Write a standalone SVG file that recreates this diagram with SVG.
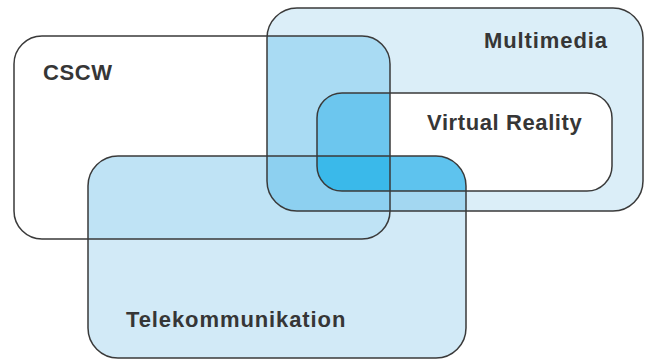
<svg xmlns="http://www.w3.org/2000/svg" width="647" height="360" viewBox="0 0 647 360">
<style>
.frame{fill:none;stroke:#3a3a3a;stroke-width:1.5}
.lbl{font-family:"Liberation Sans",Arial,sans-serif;font-weight:bold;font-size:22px;letter-spacing:0.6px;fill:#363636}
.wide{letter-spacing:0.9px}
</style>
<defs>
<rect id="rM" x="267" y="8" width="376" height="203" rx="30"/>
<rect id="rC" x="14" y="36" width="376" height="203" rx="28"/>
<rect id="rV" x="317" y="93" width="295" height="98" rx="25"/>
<rect id="rT" x="88" y="156" width="378" height="202" rx="30"/>
<clipPath id="cM"><use href="#rM"/></clipPath>
<clipPath id="cC"><use href="#rC"/></clipPath>
<clipPath id="cV"><use href="#rV"/></clipPath>
<clipPath id="cT"><use href="#rT"/></clipPath>
</defs>
<rect width="647" height="360" fill="#ffffff"/>
<g id="fills">
<use href="#rM" fill="#dbeef8"/>
<use href="#rT" fill="#d2eaf7"/>
<use href="#rV" fill="#ffffff"/>
<g clip-path="url(#cC)"><use href="#rT" fill="#bfe3f5"/></g>
<g clip-path="url(#cC)"><use href="#rM" fill="#a9dbf3"/></g>
<g clip-path="url(#cT)"><use href="#rM" fill="#a3d7f1"/></g>
<g clip-path="url(#cT)"><g clip-path="url(#cC)"><use href="#rM" fill="#8dd0f0"/></g></g>
<g clip-path="url(#cC)"><use href="#rV" fill="#6cc6ee"/></g>
<g clip-path="url(#cT)"><use href="#rV" fill="#5ec3ee"/></g>
<g clip-path="url(#cT)"><g clip-path="url(#cC)"><use href="#rV" fill="#3ab9ea"/></g></g>
</g>
<g id="multimedia">
<use href="#rM" class="frame"/>
<text class="lbl wide" x="484" y="48">Multimedia</text>
</g>
<g id="cscw">
<use href="#rC" class="frame"/>
<text class="lbl" x="43" y="80">CSCW</text>
</g>
<g id="virtual-reality">
<use href="#rV" class="frame"/>
<text class="lbl" x="427" y="130">Virtual Reality</text>
</g>
<g id="telekommunikation">
<use href="#rT" class="frame"/>
<text class="lbl wide" x="126" y="327">Telekommunikation</text>
</g>
<g id="connectors"></g>
</svg>
